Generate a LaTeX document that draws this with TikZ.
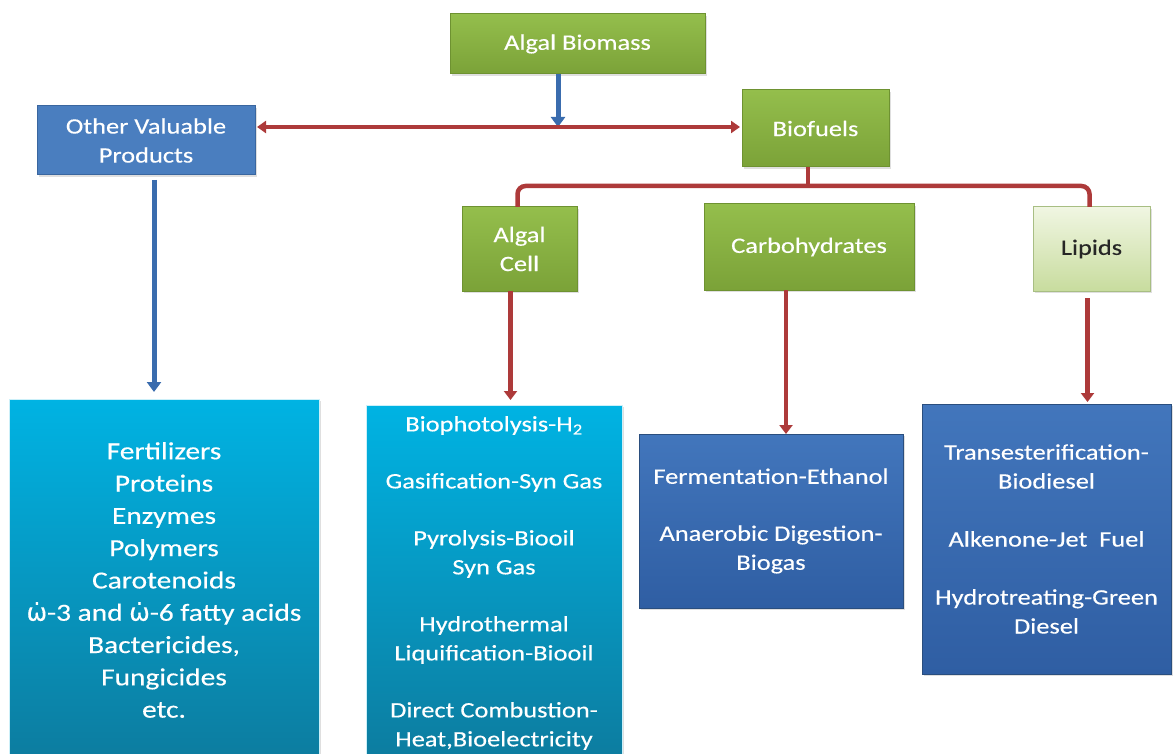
\documentclass[tikz,border=0pt]{standalone}
\usepackage{fontspec}
\setmainfont{Carlito}[FakeStretch=1.2,FakeBold=0.35]
\newfontfamily\dejavu{DejaVu Sans}[FakeBold=0.35]
\usetikzlibrary{arrows.meta,shadows}
\definecolor{gtop}{HTML}{94BE4C}
\definecolor{gbot}{HTML}{7BA238}
\definecolor{gdraw}{HTML}{6E9231}
\definecolor{ltop}{HTML}{F0F6E2}
\definecolor{lbot}{HTML}{C8DC9E}
\definecolor{ovpc}{HTML}{4A7EBF}
\definecolor{ovpd}{HTML}{3A669F}
\definecolor{ctop}{HTML}{00B3E3}
\definecolor{cbot}{HTML}{0D7C9F}
\definecolor{btop}{HTML}{4276BC}
\definecolor{bbot}{HTML}{2F5EA3}
\definecolor{bdraw}{HTML}{2A4E7E}
\definecolor{redc}{HTML}{AD3A3A}
\definecolor{bluec}{HTML}{3A6CAE}
\newcommand\omdot{{\dejavu ω̇}}
\tikzset{
  box/.style={anchor=north west, inner sep=2pt, outer sep=0pt, align=center, text=white,
    font=\fontsize{22}{29}\selectfont,
    drop shadow={shadow xshift=2pt, shadow yshift=-2pt, opacity=0.25}},
  greenbox/.style={box, top color=gtop, bottom color=gbot, draw=gdraw, line width=1pt},
  lightbox/.style={box, top color=ltop, bottom color=lbot, draw=gdraw!60, line width=1pt, text=black!85},
  ovpbox/.style={box, fill=ovpc, draw=ovpd, line width=1pt},
  cyanbox/.style={box, top color=ctop, bottom color=cbot, draw=white!80!ctop, line width=1pt},
  bluebox/.style={box, top color=btop, bottom color=bbot, draw=bdraw, line width=1pt},
  redline/.style={draw=redc, line width=4.5pt},
  redarrow/.style={redline, -{Triangle[width=13pt,length=9pt]}},
  bluearrow/.style={draw=bluec, line width=5pt, -{Triangle[width=14pt,length=10pt]}},
  redboth/.style={redline, {Triangle[width=12pt,length=9pt]}-{Triangle[width=12pt,length=9pt]}}
}
\begin{document}
\begin{tikzpicture}[x=1pt,y=-1pt]
\clip (0,0) rectangle (1173,754);
\fill[white] (0,0) rectangle (1173,754);

\node[greenbox, minimum width=255pt, minimum height=60pt] (ab) at (450,14) {Algal Biomass};
\node[ovpbox, minimum width=218pt, minimum height=69pt] (ovp) at (37,106) {Other Valuable\\Products};
\node[greenbox, minimum width=147pt, minimum height=77pt] (bif) at (742,90) {Biofuels};
\node[greenbox, minimum width=115pt, minimum height=84pt] (acell) at (462,207) {Algal\\Cell};
\node[greenbox, minimum width=210pt, minimum height=86pt] (carb) at (704,204) {Carbohydrates};
\node[lightbox, minimum width=117pt, minimum height=84pt] (lip) at (1033,207) {Lipids};

\node[cyanbox, minimum width=310pt, minimum height=362pt, font=\fontsize{24.5}{32.3}\selectfont] (prod) at (9,399)
  {Fertilizers\\Proteins\\Enzymes\\Polymers\\Carotenoids\\\omdot-3 and \omdot-6 fatty acids\\Bactericides,\\Fungicides\\etc.};
\node[cyanbox, minimum width=256pt, minimum height=356pt] (proc) at (366,405)
  {Biophotolysis-H\textsubscript{2}\\[28pt]Gasification-Syn Gas\\[28pt]Pyrolysis-Biooil\\Syn Gas\\[28pt]Hydrothermal\\Liquification-Biooil\\[28pt]Direct Combustion-\\Heat,Bioelectricity};
\node[bluebox, minimum width=264pt, minimum height=174pt] (ferm) at (639,434)
  {Fermentation-Ethanol\\[28pt]Anaerobic Digestion-\\Biogas};
\node[bluebox, minimum width=249pt, minimum height=270pt] (trans) at (922,404)
  {Transesterification-\\Biodiesel\\[29pt]Alkenone-Jet\ \ Fuel\\[29pt]Hydrotreating-Green\\Diesel};

\coordinate (hl) at (0,127);
\coordinate (br) at (808,186);

% connectors
\draw[bluearrow] ([xshift=-19.5pt]ab.south) -- ([xshift=-19.5pt]ab.south |- hl);
\draw[redboth] ([xshift=2pt]ovp.east |- hl) -- ([xshift=-2pt]bif.west |- hl);
\draw[bluearrow] ([xshift=8pt,yshift=-5pt]ovp.south) -- ([xshift=8pt,yshift=7pt]ovp.south |- prod.north);
\draw[redline, rounded corners=8pt] ([xshift=-2pt]acell.north) |- (br) -| ([xshift=-2pt]lip.north);
\draw[redline] (bif.south -| br) -- (br);
\draw[redarrow] ([xshift=-9pt]acell.south) -- ([xshift=-9pt,yshift=5pt]acell.south |- proc.north);
\draw[redarrow] ([xshift=-23pt]carb.south) -- ([xshift=-23pt]carb.south |- ferm.north);
\draw[redarrow] ([xshift=-4pt,yshift=-7pt]lip.south) -- ([xshift=-4pt,yshift=2pt]lip.south |- trans.north);
\end{tikzpicture}
\end{document}
